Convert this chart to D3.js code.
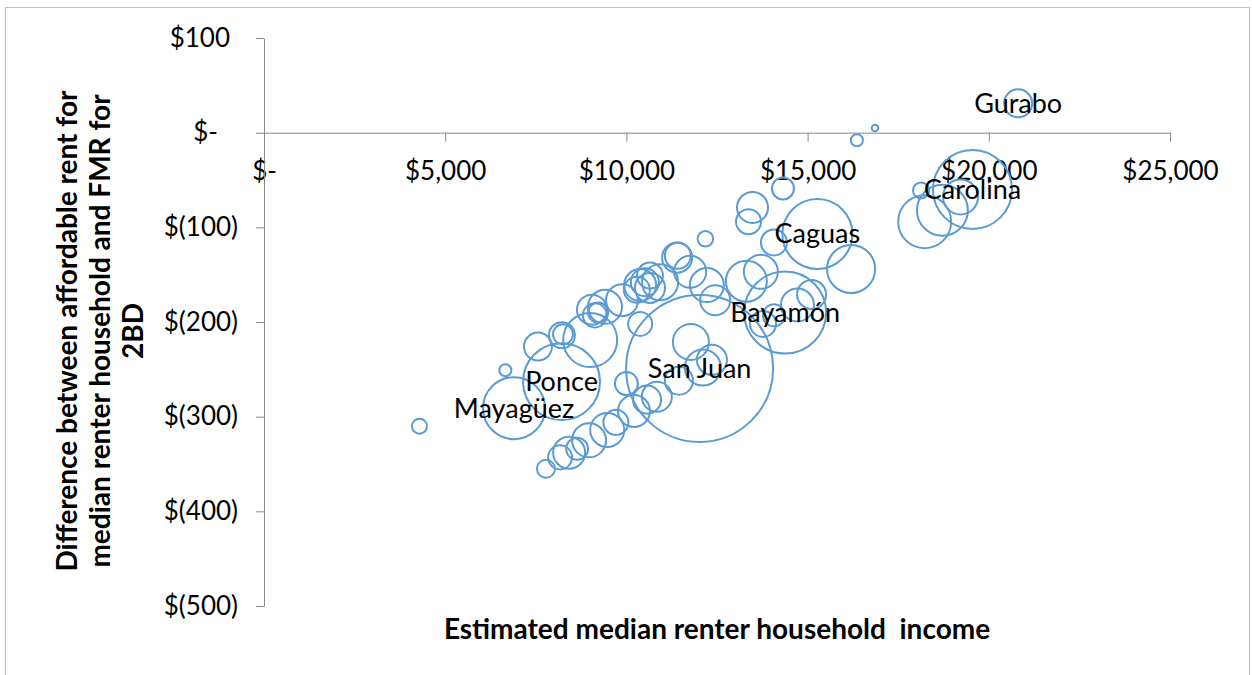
<!DOCTYPE html>
<html>
<head>
<meta charset="utf-8">
<script src="https://cdn.jsdelivr.net/npm/d3@7"></script>
<style>
  body { margin: 0; background: #fff; }
  text { font-family: Lato, "Open Sans", sans-serif; fill: #000; }
</style>
</head>
<body>
<div id="chart"></div>
<script>
// municipios: estimated median renter household income, rent gap, renter households
var names = ["San Juan", "Bayamón", "Carolina", "Ponce", "Caguas", "Mayagüez", "Gurabo",
  "", "", "", "", "", "", "", "", "", "", "", "", "", "", "", "", "", "", "", "",
  "", "", "", "", "", "", "", "", "", "", "", "", "", "", "", "", "", "", "", "",
  "", "", "", "", "", "", "", "", "", "", "", "", "", "", "", ""];
var income = [12020, 14380, 19550, 8210, 15270, 6900, 20810,
  16860, 16360, 18230, 18720, 19220, 18130, 16200, 14070, 14320, 13480, 13370, 12180,
  13310, 13710, 14720, 15110, 13770, 14070, 12450, 12220, 11400, 11420, 11760, 10930,
  10380, 10510, 10650, 10290, 9880, 9410, 9050, 9130, 9220, 9000, 8220, 8250,
  7560, 6660, 4290, 10380, 10000, 7780, 8170, 8420, 8640, 8970, 9470, 9710,
  10210, 10570, 10840, 11450, 11780, 12110, 12360, 10650];
var rentGap = [-249, -190, -60, -263, -107, -291, 31,
  5, -8, -94, -82, -68, -61, -144, -116, -59, -79, -94, -112,
  -157, -147, -182, -171, -202, -193, -177, -161, -132, -130, -147, -158,
  -161, -158, -164, -166, -177, -184, -187, -193, -190, -219, -214, -213,
  -226, -251, -310, -202, -265, -355, -343, -338, -334, -325, -314, -306,
  -294, -282, -279, -262, -221, -248, -240, -151];
var renters = [100000, 31100, 28900, 27400, 22700, 17800, 3630,
  200, 670, 13000, 12000, 5670, 1180, 10700, 3130, 2240, 4450, 2890, 1130,
  7780, 5350, 5040, 3890, 3130, 2240, 4170, 5350, 4170, 3130, 4740, 6000,
  4740, 3630, 4170, 3130, 4740, 5350, 4170, 2670, 1850, 13500, 3130, 1850,
  3630, 670, 1040, 2670, 2450, 1500, 2670, 4740, 2240, 5350, 5350, 2890,
  4740, 3630, 4170, 3630, 6000, 6000, 4170, 3130];
var xTicks = [0, 5000, 10000, 15000, 20000, 25000];
var yTicks = [100, 0, -100, -200, -300, -400, -500];

var width = 1252;
var height = 675;

var points = income.map(function (d, i) {
  return {name: names[i], x: d, y: rentGap[i], size: renters[i]};
});

var svg = d3.select('#chart')
  .append('svg')
  .attr('width', width)
  .attr('height', height);

svg.append('rect')
  .attr('x', 5.5)
  .attr('y', 7.5)
  .attr('width', 1244)
  .attr('height', 690)
  .attr('fill', 'none')
  .attr('stroke', '#bfbfbf');

var x = d3.scaleLinear().domain([0, 25000]).range([264, 1170]);
var y = d3.scaleLinear().domain([-500, 100]).range([606, 38]);
var r = d3.scaleSqrt().domain([0, d3.max(renters)]).range([0, 73.5]);

function money(v) {
  if (v === 0) return '$-';
  if (v < 0) return '$(' + d3.format(',')(-v) + ')';
  return '$' + d3.format(',')(v);
}

var xAxis = svg.append('g')
  .attr('transform', 'translate(0,' + y(0) + ')')
  .call(d3.axisBottom(x).tickValues(xTicks).tickFormat(money).tickSize(9).tickPadding(20).tickSizeOuter(0));

var yAxis = svg.append('g')
  .attr('transform', 'translate(' + x(0) + ',0)')
  .call(d3.axisLeft(y).tickValues(yTicks).tickFormat(money).tickSize(8).tickSizeOuter(0));

[xAxis, yAxis].forEach(function (g) {
  g.select('.domain').attr('stroke', '#888');
  g.selectAll('.tick line').attr('stroke', '#888');
  g.selectAll('.tick text')
    .style('font-size', '26px')
    .attr('fill', '#000');
});

// accounting style: parentheses hang to the right
yAxis.selectAll('.tick text')
  .attr('x', function (d) {
    if (d === 0) return -46;
    if (d > 0) return -34;
    return -26;
  });

svg.append('g')
  .selectAll('circle')
  .data(points)
  .enter()
  .append('circle')
  .attr('cx', function (d) { return x(d.x); })
  .attr('cy', function (d) { return y(d.y); })
  .attr('r', function (d) { return r(d.size); })
  .attr('fill', 'none')
  .attr('stroke', '#5b9bd5')
  .attr('stroke-width', 2);

svg.append('g')
  .selectAll('text')
  .data(points.filter(function (d) { return d.name; }))
  .enter()
  .append('text')
  .attr('x', function (d) { return x(d.x); })
  .attr('y', function (d) { return y(d.y); })
  .attr('dy', '0.35em')
  .attr('text-anchor', 'middle')
  .style('font-size', '27px')
  .text(function (d) { return d.name; });

svg.append('text')
  .attr('x', 717)
  .attr('y', 639)
  .attr('text-anchor', 'middle')
  .style('font-size', '28px')
  .style('font-weight', 'bold')
  .style('white-space', 'pre')
  .text('Estimated median renter household  income');

var yTitle = ['Difference between affordable rent for', 'median renter household and FMR for', '2BD'];
svg.append('g')
  .attr('transform', 'translate(100,331) rotate(-90)')
  .selectAll('text')
  .data(yTitle)
  .enter()
  .append('text')
  .attr('x', 0)
  .attr('y', function (d, i) { return (i - 1) * 33; })
  .attr('dy', '0.35em')
  .attr('text-anchor', 'middle')
  .style('font-size', '28px')
  .style('font-weight', 'bold')
  .text(function (d) { return d; });
</script>
</body>
</html>
